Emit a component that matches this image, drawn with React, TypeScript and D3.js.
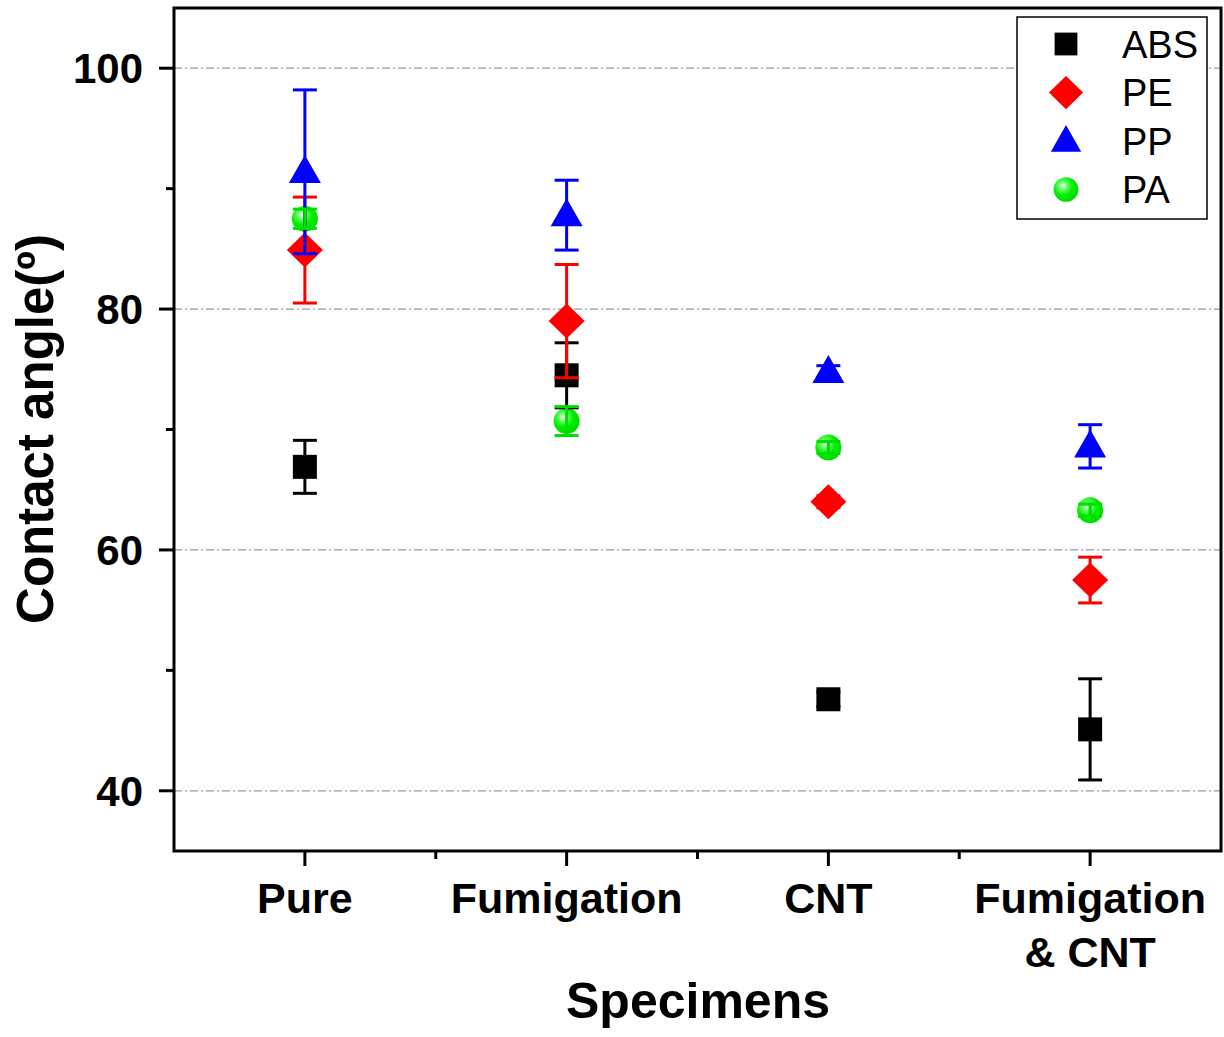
import React from "react";
import * as d3 from "d3";

const categories = ["Pure", "Fumigation", "CNT", "Fumigation\n& CNT"];
const seriesNames = ["ABS", "PE", "PP", "PA"];
const absValues = [66.9, 74.5, 47.6, 45.1];
const absErrors = [2.2, 2.7, 0.6, 4.2];
const peValues = [84.9, 79.0, 64.0, 57.5];
const peErrors = [4.4, 4.7, 0.5, 1.9];
const ppValues = [91.4, 87.8, 74.8, 68.6];
const ppErrors = [6.8, 2.9, 0.5, 1.8];
const paValues = [87.5, 70.7, 68.5, 63.3];
const paErrors = [0.8, 1.2, 0.5, 0.5];
const yTicks = [40, 60, 80, 100];
const yMinorTicks = [50, 70, 90];

const W = 1224;
const H = 1037;
const left = 174;
const right = 1221;
const top = 8;
const bottom = 851;

const colors = ["#000000", "#ff0000", "#0000ff", "#00ee00"];
const shapes = ["square", "diamond", "triangle", "circle"];

function Marker({ shape, color, x, y, scale = 1 }: any) {
  if (shape === "square") {
    const s = 24 * scale;
    return <rect x={x - s / 2} y={y - s / 2} width={s} height={s} fill={color} />;
  }
  if (shape === "diamond") {
    const w = 18 * scale, h = 17.5 * scale;
    return <path d={`M${x},${y - h}L${x + w},${y}L${x},${y + h}L${x - w},${y}Z`} fill={color} />;
  }
  if (shape === "triangle") {
    const w = 16 * scale, h = 28 * scale;
    return <path d={`M${x},${y - h * 0.6}L${x + w},${y + h * 0.4}L${x - w},${y + h * 0.4}Z`} fill={color} />;
  }
  return <circle cx={x} cy={y} r={13 * scale} fill="url(#paGrad)" />;
}

export default function App() {
  const x = d3.scaleLinear().domain([0.5, 4.5]).range([left, right]);
  const y = d3.scaleLinear().domain([35, 105]).range([bottom, top]);
  const values = [absValues, peValues, ppValues, paValues];
  const errors = [absErrors, peErrors, ppErrors, paErrors];
  const font = "'Liberation Sans', Arial, sans-serif";
  const capW = 12;

  return (
    <div style={{ position: "absolute", left: 0, top: 0 }}>
      <svg width={W} height={H} style={{ display: "block", background: "#fff" }}>
        <defs>
          <radialGradient id="paGrad" cx="0.38" cy="0.35" r="0.65">
            <stop offset="0" stopColor="#ffffff" />
            <stop offset="0.25" stopColor="#66ff66" />
            <stop offset="0.6" stopColor="#00ee00" />
            <stop offset="1" stopColor="#00dd00" />
          </radialGradient>
        </defs>
        {yTicks.map((t) => (
          <line key={"g" + t} x1={left} x2={right} y1={y(t)} y2={y(t)} stroke="#9a9a9a" strokeWidth={1.2} strokeDasharray="8,3,2,3" />
        ))}
        {values.map((vals, si) =>
          vals.map((v, ci) => (
            <Marker key={`m${si}-${ci}`} shape={shapes[si]} color={colors[si]} x={x(ci + 1)} y={y(v)} />
          ))
        )}
        {values.map((vals, si) =>
          vals.map((v, ci) => {
            const cx = x(ci + 1);
            const e = errors[si][ci];
            const c = si === 3 ? "#00dd00" : colors[si];
            return (
              <g key={`e${si}-${ci}`} stroke={c} strokeWidth={3}>
                <line x1={cx} x2={cx} y1={y(v + e)} y2={y(v - e)} />
                <line x1={cx - capW} x2={cx + capW} y1={y(v + e)} y2={y(v + e)} />
                <line x1={cx - capW} x2={cx + capW} y1={y(v - e)} y2={y(v - e)} />
              </g>
            );
          })
        )}
        <rect x={left} y={top} width={right - left} height={bottom - top} fill="none" stroke="#000" strokeWidth={3} />
        {yTicks.map((t) => (
          <g key={"yt" + t}>
            <line x1={left - 15} x2={left} y1={y(t)} y2={y(t)} stroke="#000" strokeWidth={3} />
            <text x={left - 31} y={y(t)} dy="0.36em" textAnchor="end" fontFamily={font} fontWeight="bold" fontSize={42} fill="#000">{t}</text>
          </g>
        ))}
        {yMinorTicks.map((t) => (
          <line key={"ym" + t} x1={left - 8} x2={left} y1={y(t)} y2={y(t)} stroke="#000" strokeWidth={3} />
        ))}
        {categories.map((c, i) => (
          <g key={"xt" + i}>
            <line x1={x(i + 1)} x2={x(i + 1)} y1={bottom} y2={bottom + 15} stroke="#000" strokeWidth={3} />
            {c.split("\n").map((line, li) => (
              <text key={li} x={x(i + 1)} y={913 + li * 54} textAnchor="middle" fontFamily={font} fontWeight="bold" fontSize={43} fill="#000">{line}</text>
            ))}
          </g>
        ))}
        {[1.5, 2.5, 3.5].map((t) => (
          <line key={"xm" + t} x1={x(t)} x2={x(t)} y1={bottom} y2={bottom + 8} stroke="#000" strokeWidth={3} />
        ))}
        <text x={698} y={1018} textAnchor="middle" fontFamily={font} fontWeight="bold" fontSize={50} fill="#000">Specimens</text>
        <text transform={`translate(53,429) rotate(-90)`} textAnchor="middle" fontFamily={font} fontWeight="bold" fontSize={51} fill="#000">Contact angle(º)</text>
        <rect x={1017} y={17} width={190} height={202} fill="#fff" stroke="#000" strokeWidth={1.5} />
        {seriesNames.map((n, i) => {
          const ly = 44 + i * 48.5;
          return (
            <g key={"lg" + n}>
              <Marker shape={shapes[i]} color={colors[i]} x={1066} y={ly} scale={0.95} />
              <text x={1122} y={ly} dy="0.36em" fontFamily={font} fontSize={38} fill="#000">{n}</text>
            </g>
          );
        })}
      </svg>
    </div>
  );
}
